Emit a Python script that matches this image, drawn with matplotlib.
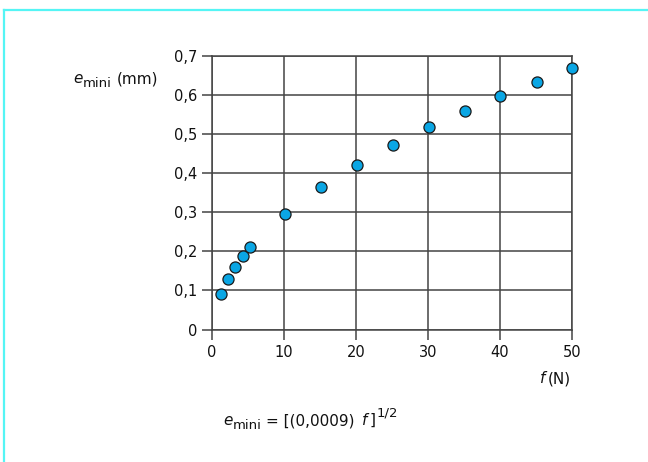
import matplotlib
matplotlib.use("Agg")
import matplotlib.pyplot as plt
from matplotlib.lines import Line2D

plt.rcParams['font.family'] = ['DejaVu Sans']

# data
force = [1.2, 2.2, 3.2, 4.3, 5.3, 10.2, 15.2, 20.1, 25.1, 30.1, 35.1, 40.0, 45.1, 50.0]
e_mini = [0.09, 0.13, 0.16, 0.188, 0.21, 0.295, 0.365, 0.42, 0.472, 0.517,
          0.559, 0.597, 0.633, 0.667]
x_ticks = [0, 10, 20, 30, 40, 50]
y_ticks = [0, 0.1, 0.2, 0.3, 0.4, 0.5, 0.6, 0.7]
y_labels = ['0', '0,1', '0,2', '0,3', '0,4', '0,5', '0,6', '0,7']

W, H = 648, 462
FS = 11
SUB = 9.5
txt_col = '#111111'

fig = plt.figure(figsize=(W / 100, H / 100), dpi=100)
ax = fig.add_axes([212 / W, 1 - 329.5 / H, 360 / W, 274 / H])

grid_col = '#444444'
ax.set_xlim(0, 50)
ax.set_ylim(0, 0.7)
ax.set_xticks(x_ticks)
ax.set_yticks(y_ticks)
ax.set_yticklabels(y_labels)
ax.grid(True, color=grid_col, linewidth=1.1)
ax.set_axisbelow(True)
for s in ax.spines.values():
    s.set_color(grid_col)
    s.set_linewidth(1.1)
ax.tick_params(axis='both', length=7.5, width=1.1, color=grid_col,
               labelsize=10.5, labelcolor=txt_col)
ax.tick_params(axis='x', pad=4)
ax.tick_params(axis='y', pad=3)

ax.plot(force, e_mini, 'o', markersize=8, markerfacecolor='#0aa6e4',
        markeredgecolor='#1a1a1a', markeredgewidth=0.9, clip_on=False, zorder=5)

renderer = fig.canvas.get_renderer()


def put_pieces(x0, y0, pieces):
    # pieces: (text, size, style, raise in px, gap after in px); x0,y0 in pixels from top-left
    x = x0
    for txt, size, style, dy, gap in pieces:
        t = fig.text(x / W, 1 - (y0 - dy) / H, txt, fontsize=size, style=style,
                     ha='left', va='baseline', color=txt_col)
        x += t.get_window_extent(renderer=renderer).width + gap


put_pieces(73, 83, [('e', FS, 'italic', 0, 0),
                    ('mini', SUB, 'normal', -4, 5),
                    ('(mm)', FS, 'normal', 0, 0)])
put_pieces(540, 383, [('f', FS, 'italic', 0, 2),
                      ('(N)', FS, 'normal', 0, 0)])
put_pieces(223, 425, [('e', FS, 'italic', 0, 0),
                      ('mini', SUB, 'normal', -4, 5),
                      ('= [(0,0009)', FS, 'normal', 0, 7),
                      ('f', FS, 'italic', 0, 2),
                      (']', FS, 'normal', 0, 1),
                      ('1/2', SUB, 'normal', 8, 0)])

# light cyan frame (top and left edges visible)
fig.add_artist(Line2D([4 / W, 4 / W], [0, 1 - 9.5 / H], transform=fig.transFigure,
                      color='#55f5f5', linewidth=1.6))
fig.add_artist(Line2D([4 / W, 1], [1 - 9.5 / H, 1 - 9.5 / H], transform=fig.transFigure,
                      color='#55f5f5', linewidth=1.6))

fig.savefig('out.png', dpi=100)
